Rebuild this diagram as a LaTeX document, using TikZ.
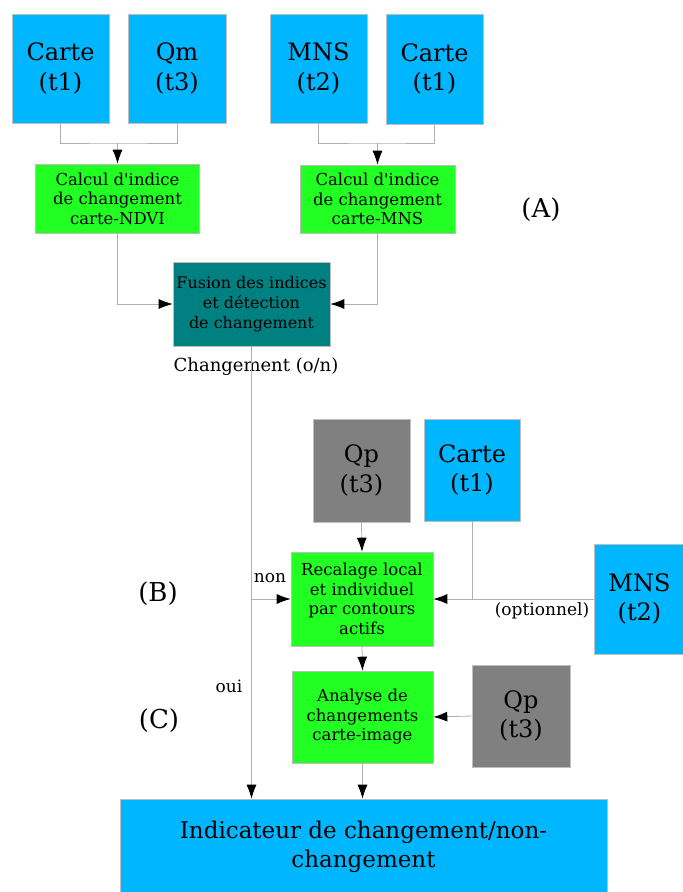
\documentclass[tikz,border=0pt]{standalone}
\usepackage{fontspec}
\setmainfont{DejaVu Serif}
\usetikzlibrary{arrows.meta}
\definecolor{cblue}{RGB}{0,183,255}
\definecolor{cgreen}{RGB}{34,255,34}
\definecolor{cteal}{RGB}{0,128,128}
\definecolor{cgray}{RGB}{128,128,128}
\definecolor{cline}{RGB}{175,175,175}
\newcommand{\apos}{\textquotesingle}
\begin{document}
\begin{tikzpicture}[x=1pt,y=-1pt,
  box/.style={draw=black!25, line width=0.6pt, inner sep=0pt, align=center, text=black},
  databox/.style={box, fill=cblue, font=\fontsize{24}{29.5}\selectfont},
  graybox/.style={box, fill=cgray, font=\fontsize{24}{29.5}\selectfont},
  procbox/.style={box, fill=cgreen, font=\fontsize{16.5}{19.5}\selectfont},
  conn/.style={draw=cline, line width=0.8pt},
  arr/.style={conn, -{Latex[length=14pt,width=10pt,color=black]}},
  lbl/.style={inner sep=0pt, font=\fontsize{17}{20}\selectfont},
  biglbl/.style={inner sep=0pt, font=\fontsize{26}{30}\selectfont}
]
\useasboundingbox (0,0) rectangle (683,892);

% top data boxes
\node[databox, minimum width=97pt, minimum height=109pt] (c1) at (60.5,68.5) {Carte\\(t1)};
\node[databox, minimum width=98pt, minimum height=109pt] (qm) at (177,68.5) {Qm\\(t3)};
\node[databox, minimum width=97pt, minimum height=109pt] (mns) at (318.5,68.5) {MNS\\(t2)};
\node[databox, minimum width=97pt, minimum height=110pt] (c2) at (434.5,69) {Carte\\(t1)};

% processing boxes
\node[procbox, minimum width=164pt, minimum height=69pt] (g1) at (117.5,198.5) {Calcul d\apos indice\\de changement\\carte-NDVI};
\node[procbox, minimum width=155pt, minimum height=68pt] (g2) at (377.5,199) {Calcul d\apos indice\\de changement\\carte-MNS};
\node[box, fill=cteal, minimum width=157pt, minimum height=84pt, font=\fontsize{16}{20}\selectfont] (fus) at (251.5,304) {Fusion des indices\\et détection\\de changement};

\node[graybox, minimum width=97pt, minimum height=103pt] (qp1) at (361.5,470.5) {Qp\\(t3)};
\node[databox, minimum width=96pt, minimum height=102pt] (c3) at (472,470) {Carte\\(t1)};
\node[procbox, minimum width=142pt, minimum height=94pt] (rec) at (362,599) {Recalage local\\et individuel\\par contours\\actifs};
\node[databox, minimum width=91pt, minimum height=110pt] (mns2) at (639.5,599) {MNS\\(t2)};

\node[procbox, minimum width=141pt, minimum height=92pt] (ana) at (362.5,717) {Analyse de\\changements\\carte-image};
\node[graybox, minimum width=98pt, minimum height=102pt] (qp2) at (521,716) {Qp\\(t3)};

\node[box, fill=cblue, minimum width=487pt, minimum height=96pt, font=\fontsize{23}{28.5}\selectfont] (ind) at (363.5,847) {Indicateur de changement/non-\\changement};

% labels
\node[biglbl] (la) at (541,210) {(A)};
\node[biglbl] (lb) at (158,594) {(B)};
\node[biglbl] (lc) at (159,721) {(C)};
\node[inner sep=0pt, font=\fontsize{18}{21}\selectfont] (chg) at (256,367) {Changement (o/n)};
\node[lbl] (lnon) at (270,578) {non};
\node[lbl] (loui) at (229,686) {oui};
\node[lbl] (lopt) at (542,611) {(optionnel)};

% connectors top
\coordinate (j1) at (g1.north |- 0,143);
\coordinate (j2) at (g2.north |- 0,143);
\draw[conn] (c1.south) |- (j1) -| (qm.south);
\draw[arr] (j1) -- (g1.north);
\draw[conn] (mns.south) |- (j2) -| (c2.south);
\draw[arr] (j2) -- (g2.north);
\draw[arr] (g1.south) |- (fus.west);
\draw[arr] (g2.south) |- (fus.east);

% main vertical
\coordinate (br) at (fus.south |- rec.west);
\draw[arr] (fus.south) -- (fus.south |- ind.north);
\draw[arr] (br) -- (rec.west);
\draw[arr] (qp1.south) -- (rec.north);
\coordinate (j3) at (c3.south |- rec.east);
\draw[arr] (c3.south) |- (rec.east);
\draw[conn] (mns2.west) -- (j3);
\draw[arr] (rec.south) -- (ana.north);
\draw[arr] (qp2.west) -- (ana.east);
\draw[arr] (ana.south) -- (ana.south |- ind.north);
\end{tikzpicture}
\end{document}
